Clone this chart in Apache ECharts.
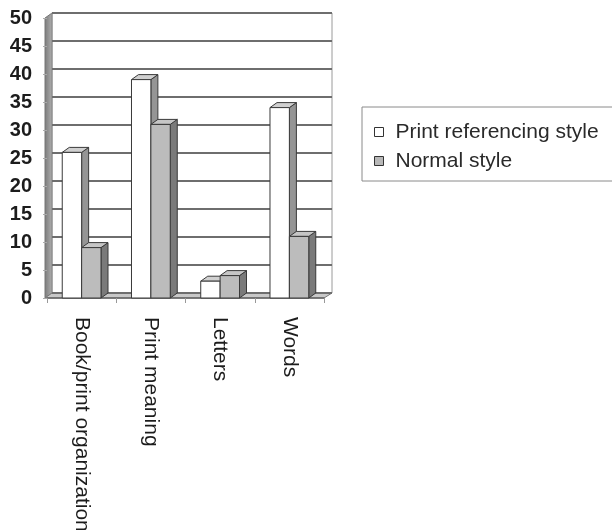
<!DOCTYPE html>
<html>
<head>
<meta charset="utf-8">
<script src="https://cdn.jsdelivr.net/npm/echarts@6/dist/echarts.min.js"></script>
<style>
  html, body { margin: 0; padding: 0; background: #ffffff; }
  #chart { width: 612px; height: 530px; }
</style>
</head>
<body>
<div id="chart"></div>
<script>
// Category labels and series values
const categories = ['Book/print organization', 'Print meaning', 'Letters', 'Words'];
const printReferencing = [26, 39, 3, 34];
const normalStyle = [9, 31, 4, 11];
const yTicks = { min: 0, max: 50, interval: 5 };

const FONT = '"Liberation Sans", Arial, sans-serif';
const BAR_FRAC = 0.28;   // bar width as a share of one category band
const DEPTH_X = 7;       // 3D depth of each bar
const DEPTH_Y = 5;

// Front plane (bars, labels) and back plane (wall with gridlines)
const FRONT = { left: 47, top: 18, width: 277, height: 280 };
const BACK = { left: 52, top: 13, width: 280, height: 280 };

function pairs(values) {
  return values.map((v, i) => [i, v]);
}

// Draws one bar as a box: front face, top face and right side face
function makeBarRenderer(side, colors) {
  return function (params, api) {
    const cat = api.value(0);
    const val = api.value(1);
    const base = api.coord([cat, 0]);
    const top = api.coord([cat, val]);
    const band = api.size([1, 0])[0];
    const w = band * BAR_FRAC;
    const x0 = side === 0 ? base[0] - w : base[0];
    const x1 = x0 + w;
    const yb = base[1];
    const yt = top[1];
    const stroke = '#3a3a3a';
    return {
      type: 'group',
      children: [
        {
          type: 'polygon',
          shape: { points: [[x1, yb], [x1 + DEPTH_X, yb - DEPTH_Y], [x1 + DEPTH_X, yt - DEPTH_Y], [x1, yt]] },
          style: { fill: colors.side, stroke: stroke, lineWidth: 1 }
        },
        {
          type: 'polygon',
          shape: { points: [[x0, yt], [x1, yt], [x1 + DEPTH_X, yt - DEPTH_Y], [x0 + DEPTH_X, yt - DEPTH_Y]] },
          style: { fill: colors.top, stroke: stroke, lineWidth: 1 }
        },
        {
          type: 'rect',
          shape: { x: x0, y: yt, width: w, height: yb - yt },
          style: { fill: colors.front, stroke: stroke, lineWidth: 1 }
        }
      ]
    };
  };
}

const chart = echarts.init(document.getElementById('chart'), null, { renderer: 'canvas' });

const option = {
  backgroundColor: '#ffffff',
  animation: false,
  grid: [
    Object.assign({
      show: true, borderColor: '#9a9a9a', borderWidth: 1, backgroundColor: 'transparent',
      containLabel: false, outerBoundsMode: 'none'
    }, BACK),
    Object.assign({ containLabel: false, outerBoundsMode: 'none' }, FRONT)
  ],
  xAxis: [
    {
      gridIndex: 0, type: 'category', data: categories,
      axisLine: { show: false }, axisTick: { show: false }, axisLabel: { show: false }
    },
    {
      gridIndex: 1, type: 'category', data: categories,
      axisLine: { show: true, lineStyle: { color: '#666', width: 1.5 } },
      axisTick: { show: true, length: 5, lineStyle: { color: '#999' } },
      axisLabel: {
        rotate: -90, margin: 19, color: '#1c1c1c',
        fontFamily: FONT, fontSize: 21
      }
    }
  ],
  yAxis: [
    {
      gridIndex: 0, type: 'value', min: yTicks.min, max: yTicks.max, interval: yTicks.interval,
      axisLine: { show: false }, axisTick: { show: false }, axisLabel: { show: false },
      splitLine: { show: true, lineStyle: { color: '#6e6e6e', width: 2 } }
    },
    {
      gridIndex: 1, type: 'value', min: yTicks.min, max: yTicks.max, interval: yTicks.interval,
      axisLine: { show: false },
      axisTick: { show: true, length: 4, lineStyle: { color: '#aaa' } },
      splitLine: { show: false },
      axisLabel: { margin: 15, color: '#1c1c1c', fontFamily: FONT, fontSize: 20, fontWeight: 'bold' }
    }
  ],
  legend: {
    orient: 'vertical',
    left: 362,
    top: 107,
    padding: [14, 80, 9, 12],
    itemGap: 7,
    itemWidth: 9,
    itemHeight: 9,
    borderColor: '#8a8a8a',
    borderWidth: 1,
    textStyle: { color: '#2a2a2a', fontFamily: FONT, fontSize: 21, lineHeight: 22, padding: [0, 0, 0, 7] },
    data: [
      { name: 'Print referencing style', icon: 'rect', itemStyle: { color: '#ffffff', borderColor: '#333', borderWidth: 1 } },
      { name: 'Normal style', icon: 'rect', itemStyle: { color: '#b8b8b8', borderColor: '#333', borderWidth: 1 } }
    ]
  },
  series: [
    {
      name: 'Print referencing style',
      type: 'custom',
      xAxisIndex: 1, yAxisIndex: 1,
      data: pairs(printReferencing),
      encode: { x: 0, y: 1 },
      itemStyle: { color: '#ffffff' },
      renderItem: makeBarRenderer(0, { front: '#ffffff', top: '#d0d0d0', side: '#959595' })
    },
    {
      name: 'Normal style',
      type: 'custom',
      xAxisIndex: 1, yAxisIndex: 1,
      data: pairs(normalStyle),
      encode: { x: 0, y: 1 },
      itemStyle: { color: '#b8b8b8' },
      renderItem: makeBarRenderer(1, { front: '#bcbcbc', top: '#c6c6c6', side: '#7a7a7a' })
    }
  ]
};

chart.setOption(option);

// Side wall and floor joining the front plane to the back wall
function wallGraphics() {
  const f0 = chart.convertToPixel({ xAxisIndex: 1, yAxisIndex: 1 }, [0, yTicks.min]);
  const fTop = chart.convertToPixel({ yAxisIndex: 1 }, yTicks.max);
  const bTop = chart.convertToPixel({ yAxisIndex: 0 }, yTicks.max);
  const bBase = chart.convertToPixel({ yAxisIndex: 0 }, yTicks.min);
  const fBase = f0[1];
  const fl = FRONT.left, fr = FRONT.left + FRONT.width;
  const bl = BACK.left, br = BACK.left + BACK.width;
  return [
    {
      type: 'polygon', z: -1,
      shape: { points: [[fl - 2, fTop], [bl, bTop], [bl, bBase], [fl - 2, fBase]] },
      style: {
        fill: new echarts.graphic.LinearGradient(0, 0, 1, 0, [
          { offset: 0, color: '#7a7a7a' }, { offset: 1, color: '#b0b0b0' }
        ]),
        stroke: '#777', lineWidth: 1
      }
    },
    {
      type: 'polygon', z: -1,
      shape: { points: [[fl - 2, fBase], [fr, fBase], [br, bBase], [bl, bBase]] },
      style: { fill: '#c8c8c8', stroke: '#777', lineWidth: 1 }
    }
  ];
}

chart.setOption({ graphic: wallGraphics() });
</script>
</body>
</html>
